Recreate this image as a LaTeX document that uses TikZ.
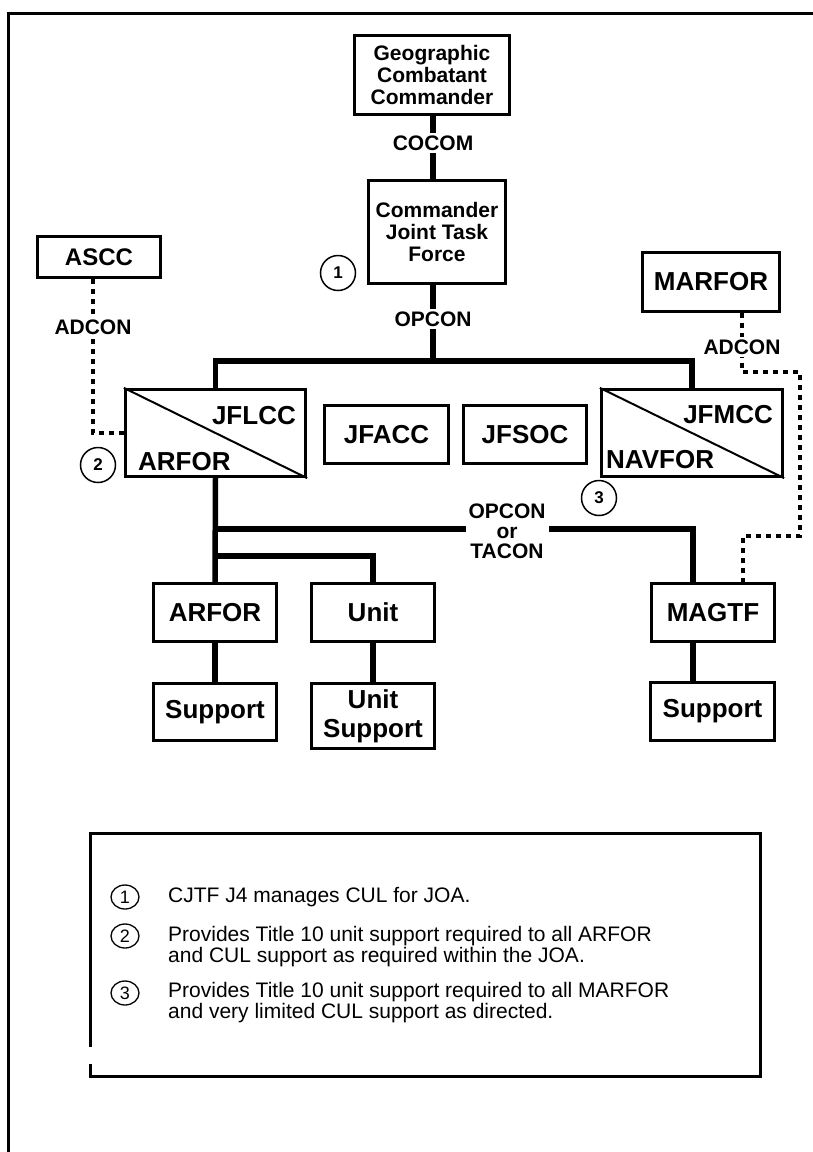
\documentclass[tikz,border=0pt]{standalone}
\usepackage{fontspec}
\setmainfont{Liberation Sans}
\usetikzlibrary{shapes.geometric}
\newcommand\fBig{\fontsize{26}{29}\selectfont\bfseries}
\newcommand\fAsc{\fontsize{24}{27}\selectfont\bfseries}
\newcommand\fMid{\fontsize{21}{22}\selectfont\bfseries}
\newcommand\fNum{\fontsize{17}{18}\selectfont\bfseries}
\newcommand\fLeg{\fontsize{21}{21}\selectfont}
\newcommand\fLegNum{\fontsize{18}{18}\selectfont}
\tikzset{
  box/.style={draw, line width=3.2pt, inner sep=0pt, align=center, font=\fBig},
  conn/.style={draw, line width=5.5pt},
  dots/.style={draw, line width=4pt, dash pattern=on 5pt off 5pt},
  thinframe/.style={draw, line width=3pt},
  lbl/.style={fill=white, inner sep=3pt, align=center, font=\fMid},
  boxtxt/.style={inner sep=0pt, font=\fBig},
  numcirc/.style={draw, circle, line width=1.5pt, minimum size=35pt, inner sep=0pt, font=\fNum},
  legcirc/.style={draw, ellipse, line width=1.3pt, minimum width=28pt, minimum height=24pt, inner sep=0pt, font=\fLegNum},
  legtxt/.style={anchor=west, inner sep=0pt, align=left, font=\fLeg}
}
\begin{document}
\begin{tikzpicture}[x=1pt,y=-1pt]
\useasboundingbox (0,0) rectangle (813,1152);
% outer frame (top and left edges)
\coordinate (fbl) at (8,1160);
\coordinate (ftl) at (8,13);
\coordinate (ftr) at (820,13);
\draw[thinframe] (fbl) -- (ftl) -- (ftr);

% boxes
\node[box, font=\fMid, minimum width=155pt, minimum height=79pt] (geo) at (432,75) {Geographic\\Combatant\\Commander};
\node[box, font=\fMid, minimum width=137pt, minimum height=103pt] (cjtf) at (437,232) {Commander\\Joint Task\\Force};
\node[box, font=\fAsc, minimum width=123pt, minimum height=41pt] (ascc) at (99,257) {ASCC};
\node[box, minimum width=137pt, minimum height=59pt] (marfor) at (711,282) {MARFOR};
\node[box, minimum width=180pt, minimum height=87pt] (jflcc) at (215.5,433) {};
\node[box, minimum width=124pt, minimum height=58pt] (jfacc) at (386.5,434.5) {JFACC};
\node[box, minimum width=123pt, minimum height=58pt] (jfsoc) at (525,434.5) {JFSOC};
\node[box, minimum width=181pt, minimum height=87pt] (jfmcc) at (692,433) {};
\node[box, minimum width=123pt, minimum height=58pt] (arfor) at (215,612.5) {ARFOR};
\node[box, minimum width=123pt, minimum height=58pt] (unit) at (373,612.5) {Unit};
\node[box, minimum width=123pt, minimum height=57pt] (sup1) at (215,712) {Support};
\node[box, minimum width=123pt, minimum height=65pt] (unitsup) at (373,716) {Unit\\Support};
\node[box, minimum width=123pt, minimum height=58pt] (magtf) at (713,612.5) {MAGTF};
\node[box, minimum width=124pt, minimum height=58pt] (sup3) at (712.5,711.5) {Support};

% split boxes
\draw[line width=2pt] (jflcc.north west) -- (jflcc.south east);
\draw[line width=2pt] (jfmcc.north west) -- (jfmcc.south east);
\node[boxtxt, anchor=east] (tjflcc) at (296,416) {JFLCC};
\node[boxtxt, anchor=west] (tarfor) at (138,462) {ARFOR};
\node[boxtxt, anchor=east] (tjfmcc) at (773,415) {JFMCC};
\node[boxtxt, anchor=west] (tnavfor) at (606,460) {NAVFOR};

% solid connectors
\coordinate (bar) at (433,361);
\coordinate (b2) at (215,529);
\coordinate (b3) at (215,556);
\coordinate (mg) at (693,582);
\draw[conn] (geo.south -| bar) -- (cjtf.north -| bar);
\node[lbl] (lcocom) at (433,143) {COCOM};
\draw[conn] (cjtf.south -| bar) -- (bar);
\node[lbl] (lopcon) at (433,319) {OPCON};
\draw[conn] (jflcc.north) |- (bar) -| (jfmcc.north);
\draw[conn] (jflcc.south) -- (arfor.north);
\draw[conn] (b2) -| (mg);
\node[lbl, font=\fMid\linespread{0.92}\selectfont] (lopt) at (507,531.5) {OPCON\\or\\TACON};
\draw[conn] (b3) -| (unit.north);
\draw[conn] (arfor.south) -- (sup1.north);
\draw[conn] (unit.south) -- (unitsup.north);
\draw[conn] (magtf.south -| mg) -- (sup3.north -| mg);

% dotted ADCON connectors
\coordinate (ad1) at (93,433);
\draw[dots] (ascc.south -| ad1) -- (ad1) -- (jflcc.west |- ad1);
\node[lbl] (ladl) at (93,327) {ADCON};
\coordinate (m1) at (742,372);
\coordinate (m2) at (800,372);
\coordinate (m3) at (800,536);
\coordinate (m4) at (743,536);
\draw[dots] (marfor.south -| m1) -- (m1) -- (m2) -- (m3) -- (m4) -- (magtf.north -| m4);
\node[lbl] (ladr) at (742,347) {ADCON};

% numbered circles
\node[numcirc] (c1) at (338,273) {1};
\node[numcirc] (c2) at (98,465) {2};
\node[numcirc] (c3) at (599,498) {3};

% legend
\coordinate (lg1) at (90,1047);
\coordinate (lg2) at (90,833);
\coordinate (lg3) at (760,833);
\coordinate (lg4) at (760,1076);
\coordinate (lg5) at (90,1076);
\coordinate (lg6) at (90,1064);
\draw[thinframe] (lg1) -- (lg2) -- (lg3) -- (lg4) -- (lg5) -- (lg6);
\node[legcirc] (n1) at (125,897) {1};
\node[legcirc] (n2) at (125,936) {2};
\node[legcirc] (n3) at (125,993) {3};
\node[legtxt] (t1) at (168,897) {CJTF J4 manages CUL for JOA.};
\node[legtxt] (t2) at (168,947) {Provides Title 10 unit support required to all ARFOR\\and CUL support as required within the JOA.};
\node[legtxt] (t3) at (168,1003) {Provides Title 10 unit support required to all MARFOR\\and very limited CUL support as directed.};
\end{tikzpicture}
\end{document}
